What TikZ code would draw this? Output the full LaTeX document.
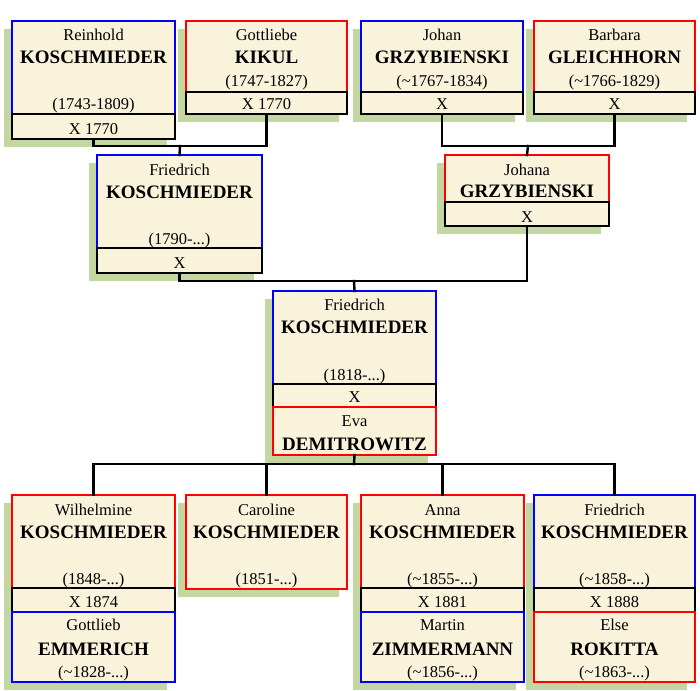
\documentclass[tikz,border=0pt]{standalone}
\usepackage{fontspec}
\setmainfont{Liberation Serif}
\usetikzlibrary{fit}
\definecolor{cream}{RGB}{250,243,220}
\definecolor{shade}{RGB}{195,216,160}
\definecolor{mblue}{RGB}{0,0,255}
\definecolor{mred}{RGB}{255,0,0}
\tikzset{
  box/.style={fill=cream, line width=2.4pt, inner sep=0pt, outer sep=0pt},
  shadowbox/.style={fill=shade, draw=none},
  gn/.style={anchor=base, inner sep=0pt, font=\fontsize{16.5}{18}\selectfont},
  sn/.style={anchor=base, inner sep=0pt, font=\fontsize{19}{21}\selectfont\bfseries},
  ln/.style={line width=2.4pt, line cap=rect}
}
\begin{document}
\begin{tikzpicture}[x=1pt,y=-1pt]
\fill[white] (0,0) rectangle (700,690);
\useasboundingbox (0,0) rectangle (700,690);
% shadows
\fill[shadowbox] (4,29) rectangle (167,147);
\fill[shadowbox] (178,29) rectangle (339,122);
\fill[shadowbox] (353,29) rectangle (515,122);
\fill[shadowbox] (526,29) rectangle (687,122);
\fill[shadowbox] (89,163) rectangle (254,281);
\fill[shadowbox] (437,163) rectangle (601,234);
\fill[shadowbox] (265,299) rectangle (428,463);
\fill[shadowbox] (4,503) rectangle (167,690);
\fill[shadowbox] (178,503) rectangle (339,597);
\fill[shadowbox] (353,503) rectangle (516,690);
\fill[shadowbox] (526,503) rectangle (687,690);
% connectors
\coordinate (ab) at (180,146);
\coordinate (cd) at (528,146);
\coordinate (ef) at (354,281);
\coordinate (kids) at (354,464);
% row 1
\node[box, draw=mblue, fit={(12,21) (175,114)}] (a) {};
\node[box, draw=black, fit={(12,114) (175,139)}] (ax) {};
\node[gn] (a1) at (93.5,41) {Reinhold};
\node[sn] (a2) at (93.5,64) {KOSCHMIEDER};
\node[gn] (a3) at (93.5,110) {(1743-1809)};
\node[gn] (a4) at (93.5,134) {X 1770};
\node[box, draw=mred, fit={(186,21) (347,92)}] (b) {};
\node[box, draw=black, fit={(186,92) (347,114)}] (bx) {};
\node[gn] (b1) at (266.5,41) {Gottliebe};
\node[sn] (b2) at (266.5,64) {KIKUL};
\node[gn] (b3) at (266.5,87) {(1747-1827)};
\node[gn] (b4) at (266.5,110) {X 1770};
\node[box, draw=mblue, fit={(361,21) (523,92)}] (c) {};
\node[box, draw=black, fit={(361,92) (523,114)}] (cx) {};
\node[gn] (c1) at (442,41) {Johan};
\node[sn] (c2) at (442,64) {GRZYBIENSKI};
\node[gn] (c3) at (442,87) {(\textasciitilde1767-1834)};
\node[gn] (c4) at (442,110) {X};
\node[box, draw=mred, fit={(534,21) (695,92)}] (d) {};
\node[box, draw=black, fit={(534,92) (695,114)}] (dx) {};
\node[gn] (d1) at (614.5,41) {Barbara};
\node[sn] (d2) at (614.5,64) {GLEICHHORN};
\node[gn] (d3) at (614.5,87) {(\textasciitilde1766-1829)};
\node[gn] (d4) at (614.5,110) {X};
% row 2
\node[box, draw=mblue, fit={(97,155) (262,248)}] (e) {};
\node[box, draw=black, fit={(97,248) (262,273)}] (ex) {};
\node[gn] (e1) at (179.5,175) {Friedrich};
\node[sn] (e2) at (179.5,198) {KOSCHMIEDER};
\node[gn] (e3) at (179.5,244) {(1790-...)};
\node[gn] (e4) at (179.5,268) {X};
\node[box, draw=mred, fit={(445,155) (609,202)}] (f) {};
\node[box, draw=black, fit={(445,202) (609,226)}] (fx) {};
\node[gn] (f1) at (527,175) {Johana};
\node[sn] (f2) at (527,197) {GRZYBIENSKI};
\node[gn] (f4) at (527,222) {X};
% row 3
\node[box, draw=mblue, fit={(273,291) (436,384)}] (g) {};
\node[box, draw=black, fit={(273,384) (436,407)}] (gx) {};
\node[box, draw=mred, fit={(273,407) (436,455)}] (gs) {};
\node[gn] (g1) at (354.5,310) {Friedrich};
\node[sn] (g2) at (354.5,333) {KOSCHMIEDER};
\node[gn] (g3) at (354.5,380) {(1818-...)};
\node[gn] (g4) at (354.5,402) {X};
\node[gn] (g5) at (354.5,426) {Eva};
\node[sn] (g6) at (354.5,450) {DEMITROWITZ};
% row 4
\node[box, draw=mred, fit={(12,495) (175,588)}] (h) {};
\node[box, draw=black, fit={(12,588) (175,612)}] (hx) {};
\node[box, draw=mblue, fit={(12,612) (175,682)}] (hs) {};
\node[gn] (h1) at (93.5,515) {Wilhelmine};
\node[sn] (h2) at (93.5,538) {KOSCHMIEDER};
\node[gn] (h3) at (93.5,584) {(1848-...)};
\node[gn] (h4) at (93.5,607) {X 1874};
\node[gn] (h5) at (93.5,630) {Gottlieb};
\node[sn] (h6) at (93.5,655) {EMMERICH};
\node[gn] (h7) at (93.5,677) {(\textasciitilde1828-...)};
\node[box, draw=mred, fit={(186,495) (347,589)}] (i) {};
\node[gn] (i1) at (266.5,515) {Caroline};
\node[sn] (i2) at (266.5,538) {KOSCHMIEDER};
\node[gn] (i3) at (266.5,584) {(1851-...)};
\node[box, draw=mred, fit={(361,495) (524,588)}] (j) {};
\node[box, draw=black, fit={(361,588) (524,612)}] (jx) {};
\node[box, draw=mblue, fit={(361,612) (524,682)}] (js) {};
\node[gn] (j1) at (442.5,515) {Anna};
\node[sn] (j2) at (442.5,538) {KOSCHMIEDER};
\node[gn] (j3) at (442.5,584) {(\textasciitilde1855-...)};
\node[gn] (j4) at (442.5,607) {X 1881};
\node[gn] (j5) at (442.5,630) {Martin};
\node[sn] (j6) at (442.5,655) {ZIMMERMANN};
\node[gn] (j7) at (442.5,677) {(\textasciitilde1856-...)};
\node[box, draw=mblue, fit={(534,495) (695,588)}] (k) {};
\node[box, draw=black, fit={(534,588) (695,612)}] (kx) {};
\node[box, draw=mred, fit={(534,612) (695,682)}] (ks) {};
\node[gn] (k1) at (614.5,515) {Friedrich};
\node[sn] (k2) at (614.5,538) {KOSCHMIEDER};
\node[gn] (k3) at (614.5,584) {(\textasciitilde1858-...)};
\node[gn] (k4) at (614.5,607) {X 1888};
\node[gn] (k5) at (614.5,630) {Else};
\node[sn] (k6) at (614.5,655) {ROKITTA};
\node[gn] (k7) at (614.5,677) {(\textasciitilde1863-...)};
% lines
\draw[ln] (ax.south) |- (ab) -| (bx.south);
\draw[ln] (ab) -- (e.north);
\draw[ln] (cx.south) |- (cd) -| (dx.south);
\draw[ln] (cd) -- (f.north);
\draw[ln] (ex.south) |- (ef) -| (fx.south);
\draw[ln] (ef) -- (g.north);
\draw[ln] (gs.south) -- (kids);
\draw[ln] (h.north) |- (kids) -| (k.north);
\draw[ln] (i.north) -- (i.north |- kids);
\draw[ln] (j.north) -- (j.north |- kids);
\end{tikzpicture}
\end{document}
